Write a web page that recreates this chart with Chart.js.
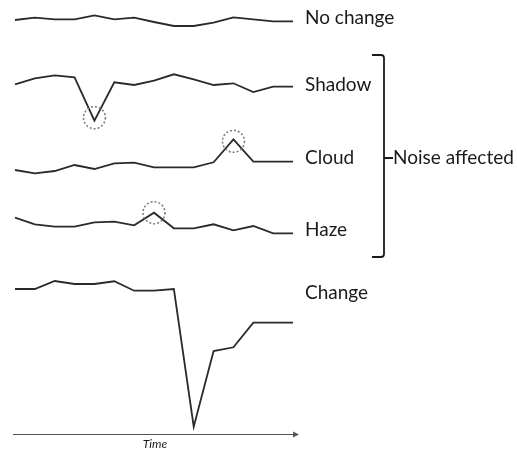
<!DOCTYPE html>
<html><head><meta charset="utf-8">
<script src="https://cdn.jsdelivr.net/npm/chart.js@4/dist/chart.umd.min.js"></script>
<style>html,body{margin:0;padding:0;background:#fff}#wrap{width:517px;height:451px}</style>
</head><body><div id="wrap"><canvas id="c" width="517" height="451"></canvas></div>
<script>
// ---- data (arbitrary signal units) ----
const timeSteps = [0,1,2,3,4,5,6,7,8,9,10,11,12,13,14];
const seriesNames = ["No change","Shadow","Cloud","Haze","Change"];
const noChangeValues = [14,16.3,14.7,14.7,18.7,14.7,16.3,12,8,8,11.3,16.7,14.7,12.7,12.7];
const shadowValues   = [39.7,45.7,48.7,46.7,3.3,41.7,39,43.3,49.7,44.7,39,40.7,32,37.3,37.3];
const cloudValues    = [9,5.7,8,14,10,15.7,16.3,11.7,11.7,11.7,16.7,39.7,17.3,17.3,17.3];
const hazeValues     = [21.3,14.7,12.3,12.3,16.7,17.3,13.7,26.3,10.7,10.7,14.7,8.7,13,5.7,5.7];
const changeValues   = [145,145,153,150,150,152.7,143.3,143.3,145,7.3,83,86.7,111.3,111.3,111.3];
const noiseIndex     = [null,4,11,7,null];   // time step of the noise spike per series
const groupLabel = "Noise affected";
const axisLabel = "Time";

// ---- layout (vertical placement of each trace on the shared axis) ----
const seriesOffset = [400,310,255,195,0];
const labelPixelY = [18,85,158,230,293];
const circleShift = [0,-3,2,0,0];
const allValues = [noChangeValues,shadowValues,cloudValues,hazeValues,changeValues];

const LINE = '#2a2a2a';
const FONT = 'Lato, "Open Sans", sans-serif';

const datasets = allValues.map((vals,i)=>({
  label: seriesNames[i],
  data: vals.map((v,k)=>({x:timeSteps[k], y:v+seriesOffset[i]})),
  borderColor: LINE, borderWidth: 1.8, pointRadius: 0, tension: 0, fill:false
}));

const decor = {
  id:'decor',
  afterDatasetsDraw(chart){
    const ctx = chart.ctx, ca = chart.chartArea;
    ctx.save();
    // dotted circles around noise spikes
    datasets.forEach((d,i)=>{
      const idx = noiseIndex[i];
      if(idx===null) return;
      const pt = chart.getDatasetMeta(i).data[idx];
      ctx.beginPath();
      ctx.setLineDash([2,2]);
      ctx.strokeStyle='#7a7a7a'; ctx.lineWidth=1.5;
      ctx.arc(pt.x, pt.y+circleShift[i], 11, 0, Math.PI*2);
      ctx.stroke();
    });
    ctx.setLineDash([]);
    // series labels
    ctx.fillStyle='#1a1a1a';
    ctx.font='19px '+FONT;
    ctx.textBaseline='middle'; ctx.textAlign='left';
    seriesNames.forEach((n,i)=>ctx.fillText(n, 305, labelPixelY[i]));
    // bracket
    const bx=384, top=55, bot=257, mid=158;
    ctx.strokeStyle='#1a1a1a'; ctx.lineWidth=1.8;
    ctx.beginPath();
    ctx.moveTo(372,top); ctx.lineTo(bx-3,top); ctx.quadraticCurveTo(bx,top,bx,top+3);
    ctx.lineTo(bx,bot-3); ctx.quadraticCurveTo(bx,bot,bx-3,bot); ctx.lineTo(372,bot);
    ctx.moveTo(bx,mid); ctx.lineTo(393,mid);
    ctx.stroke();
    ctx.fillText(groupLabel, 393, mid);
    // time axis arrow
    const ay = Math.round(ca.bottom)+0.5;
    ctx.strokeStyle='#555'; ctx.lineWidth=1;
    ctx.beginPath(); ctx.moveTo(ca.left,ay); ctx.lineTo(ca.right,ay); ctx.stroke();
    ctx.fillStyle='#555';
    ctx.beginPath(); ctx.moveTo(ca.right+1,ay); ctx.lineTo(ca.right-5,ay-3); ctx.lineTo(ca.right-5,ay+3); ctx.closePath(); ctx.fill();
    ctx.fillStyle='#1a1a1a';
    ctx.font='italic 12px '+FONT; ctx.textAlign='center'; ctx.textBaseline='top';
    ctx.fillText(axisLabel, 155, ay+4);
    ctx.restore();
  }
};

new Chart(document.getElementById('c'), {
  type:'line',
  data:{datasets},
  options:{
    responsive:false, animation:false, devicePixelRatio:1,
    layout:{padding:{left:13,right:219,top:0,bottom:17}},
    scales:{
      x:{type:'linear', min:-0.1, max:14.25, display:false},
      y:{min:0, max:434, display:false}
    },
    plugins:{legend:{display:false}, tooltip:{enabled:false}}
  },
  plugins:[decor]
});
</script></body></html>
